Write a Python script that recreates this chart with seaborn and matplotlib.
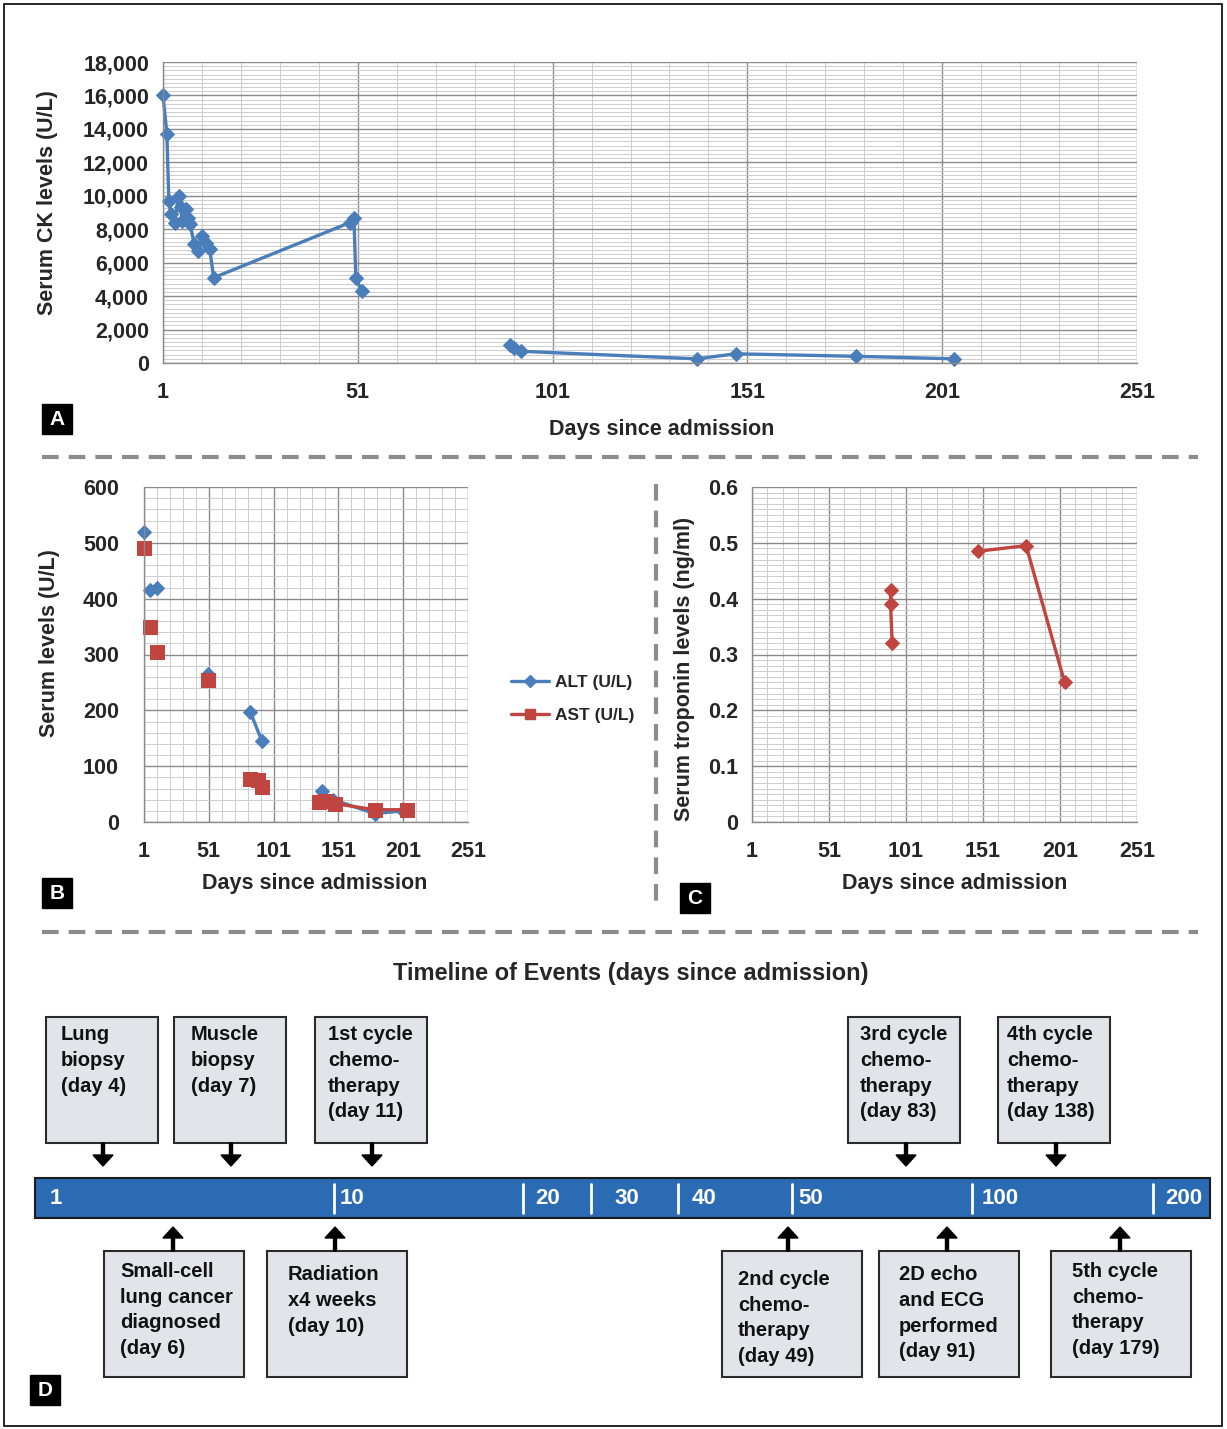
import numpy as np
import pandas as pd
import matplotlib
matplotlib.use("Agg")
import matplotlib.pyplot as plt
import seaborn as sns
from matplotlib.patches import Rectangle, FancyArrow
from matplotlib.lines import Line2D
from matplotlib.ticker import FixedLocator, MultipleLocator, FuncFormatter

# ---------------- data ----------------
# panel A - serum CK (seg = run of connected readings)
ck_day = [1, 2, 2.5, 3, 4, 5, 5.5, 6, 7, 7.5, 8, 9, 10, 11, 12, 13, 14,
          49, 50, 50.5, 52, 90, 91, 93, 138, 148, 179, 204]
ck_val = [16000, 13700, 9700, 8900, 8400, 10000, 9300, 8500, 9200, 8700, 8300,
          7100, 6700, 7600, 7200, 6800, 5100, 8400, 8700, 5100, 4300,
          1100, 900, 700, 250, 550, 400, 250]
ck_seg = [0] * 21 + [1] * 7

# panel B - ALT / AST
alt_day = [1, 6, 11, 50, 83, 92, 138, 147, 179, 201]
alt_val = [520, 415, 420, 265, 197, 145, 55, 40, 15, 20]
alt_seg = [0, 1, 1, 2, 3, 3, 4, 4, 4, 4]

ast_day = [1, 6, 11, 50, 83, 89, 92, 136, 141, 148, 179, 204]
ast_val = [490, 350, 305, 255, 77, 75, 62, 35, 37, 33, 22, 22]
ast_seg = [0, 1, 2, 3, 4, 4, 4, 5, 5, 5, 5, 5]

# panel C - troponin
trop_day = [91, 91, 92, 148, 179, 204]
trop_val = [0.415, 0.39, 0.32, 0.485, 0.495, 0.25]
trop_seg = [0, 0, 0, 1, 1, 1]

day_ticks = [1, 51, 101, 151, 201, 251]

# panel D - timeline
tl_ticks = ["1", "10", "20", "30", "40", "50", "100", "200"]
top_labels = ["Lung\nbiopsy\n(day 4)", "Muscle\nbiopsy\n(day 7)",
              "1st cycle\nchemo-\ntherapy\n(day 11)",
              "3rd cycle\nchemo-\ntherapy\n(day 83)",
              "4th cycle\nchemo-\ntherapy\n(day 138)"]
bottom_labels = ["Small-cell\nlung cancer\ndiagnosed\n(day 6)",
                 "Radiation\nx4 weeks\n(day 10)",
                 "2nd cycle\nchemo-\ntherapy\n(day 49)",
                 "2D echo\nand ECG\nperformed\n(day 91)",
                 "5th cycle\nchemo-\ntherapy\n(day 179)"]

# ---------------- layout (pixels) ----------------
W, H = 1227, 1429
tl_text_x = [50, 340, 535, 614, 692, 798, 982, 1165]
tl_sep_x = [None, 334, 523, 591, 678, 792, 972, 1153]
top_box_left = [46, 174, 315, 848, 998]
top_arrow_x = [103, 231, 372, 906, 1056]
top_text_dx = [15, 17, 13, 12, 9]
bot_box_left = [104, 267, 722, 879, 1051]
bot_arrow_x = [173, 335, 788, 947, 1120]
bot_text_dx = [16, 21, 16, 20, 21]
bot_text_y = [1262, 1265, 1270, 1265, 1262]

BLUE = "#4a7ebb"
RED = "#c0443f"
FONT = 15.5

sns.set_theme(style="white")
plt.rcParams['font.family'] = ['Liberation Sans', 'DejaVu Sans']
plt.rcParams['font.weight'] = 'bold'
plt.rcParams['axes.labelweight'] = 'bold'

fig = plt.figure(figsize=(W / 100, H / 100), dpi=100)

ov = fig.add_axes([0, 0, 1, 1])
ov.set_xlim(0, W)
ov.set_ylim(H, 0)
ov.axis('off')


def px_axes(l, t, r, b):
    return fig.add_axes([l / W, 1 - b / H, (r - l) / W, (b - t) / H])


def excel_style(ax, ymax, ymaj, ymin, fmt, ypad):
    ax.set_xlim(1, 251)
    ax.set_ylim(0, ymax)
    ax.xaxis.set_major_locator(FixedLocator(day_ticks))
    ax.xaxis.set_minor_locator(FixedLocator(np.arange(1, 252, 10)))
    ax.yaxis.set_major_locator(MultipleLocator(ymaj))
    ax.yaxis.set_minor_locator(MultipleLocator(ymin))
    ax.yaxis.set_major_formatter(FuncFormatter(fmt))
    ax.grid(which='major', color='#8a8a8a', lw=1.0)
    ax.grid(which='minor', color='#cdcdcd', lw=0.7)
    ax.set_axisbelow(True)
    for s in ['top', 'right']:
        ax.spines[s].set_visible(False)
    for s in ['left', 'bottom']:
        ax.spines[s].set_color('#8a8a8a')
        ax.spines[s].set_linewidth(1.0)
    ax.tick_params(axis='x', which='major', length=4, color='#8a8a8a',
                   pad=10, labelsize=FONT)
    ax.tick_params(axis='y', which='major', length=0, pad=ypad,
                   labelsize=FONT)
    ax.tick_params(which='minor', length=0)
    ax.set_facecolor('white')


def set_labels(ax, box, xlab, ylab, xc, yc):
    l, t, r, b = box
    ax.set_xlabel(xlab, fontsize=FONT, fontweight='bold')
    ax.set_ylabel(ylab, fontsize=FONT, fontweight='bold')
    ax.xaxis.label.set_va('center')
    ax.yaxis.label.set_va('center')
    ax.xaxis.set_label_coords((xc[0] - l) / (r - l), (b - xc[1]) / (b - t))
    ax.yaxis.set_label_coords((yc[0] - l) / (r - l), (b - yc[1]) / (b - t))


# ---------------- panel A ----------------
box_a = (163, 62, 1137, 363)
ax_a = px_axes(*box_a)
ck_df = pd.DataFrame({'day': ck_day, 'ck': ck_val, 'seg': ck_seg})
sns.lineplot(data=ck_df, x='day', y='ck', units='seg', estimator=None,
             sort=False, ax=ax_a, color=BLUE, lw=2.4, marker='D',
             markersize=7, markeredgecolor=BLUE, clip_on=False)
excel_style(ax_a, 18000, 2000, 250, lambda v, p: f"{int(v):,}", 10)
set_labels(ax_a, box_a, 'Days since admission', 'Serum CK levels (U/L)',
           (662, 429), (48, 203))

# ---------------- panel B ----------------
box_b = (144, 487, 468, 822)
ax_b = px_axes(*box_b)
alt_df = pd.DataFrame({'day': alt_day, 'val': alt_val, 'seg': alt_seg})
ast_df = pd.DataFrame({'day': ast_day, 'val': ast_val, 'seg': ast_seg})
sns.lineplot(data=alt_df, x='day', y='val', units='seg', estimator=None,
             ax=ax_b, color=BLUE, lw=2.4, marker='D', markersize=7,
             markeredgecolor=BLUE, clip_on=False)
sns.lineplot(data=ast_df, x='day', y='val', units='seg', estimator=None,
             ax=ax_b, color=RED, lw=2.4, marker='s', markersize=10,
             markeredgecolor=RED, clip_on=False)
excel_style(ax_b, 600, 100, 20, lambda v, p: f"{int(v)}", 18)
set_labels(ax_b, box_b, 'Days since admission', 'Serum levels (U/L)',
           (315, 883), (50, 643))
handles = [Line2D([], [], color=BLUE, lw=2.4, marker='D', markersize=6),
           Line2D([], [], color=RED, lw=2.4, marker='s', markersize=7)]
ax_b.legend(handles, ['ALT (U/L)', 'AST (U/L)'], loc='upper left',
            bbox_to_anchor=(511 / W, 1 - 675 / H),
            bbox_transform=fig.transFigure, frameon=False, fontsize=12.5,
            handlelength=2.2, handletextpad=0.35, labelspacing=1.0,
            borderpad=0, borderaxespad=0)

# ---------------- panel C ----------------
box_c = (752, 487, 1137, 822)
ax_c = px_axes(*box_c)
trop_df = pd.DataFrame({'day': trop_day, 'val': trop_val, 'seg': trop_seg})
sns.lineplot(data=trop_df, x='day', y='val', units='seg', estimator=None,
             sort=False, ax=ax_c, color=RED, lw=2.4, marker='D',
             markersize=7, markeredgecolor=RED)
excel_style(ax_c, 0.6, 0.1, 0.01,
            lambda v, p: "0" if abs(v) < 1e-9 else f"{v:.1f}", 10)
set_labels(ax_c, box_c, 'Days since admission',
           'Serum troponin levels (ng/ml)', (955, 884), (684, 669))

# ---------------- decorations ----------------
ov.add_patch(Rectangle((4, 4), W - 9, H - 7, fill=False, ec='black', lw=1.2))
for y in [457, 932]:
    ov.plot([42, 1198], [y, y], color='#8c8c8c', lw=3, dashes=(4, 2.4))
ov.plot([656, 656], [484, 910], color='#8c8c8c', lw=3, dashes=(4, 2.4))

for letter, (lx, ly) in zip("ABCD", [(42, 404), (42, 878), (680, 883), (30, 1375)]):
    ov.add_patch(Rectangle((lx, ly), 30, 30, fc='black', ec='black'))
    ov.text(lx + 15, ly + 15.5, letter, color='white', fontsize=15,
            fontweight='bold', ha='center', va='center')

ov.text(631, 973, 'Timeline of Events (days since admission)',
        fontsize=17, fontweight='bold', ha='center', va='center')

# timeline bar
ov.add_patch(Rectangle((35, 1178), 1175, 40, fc='#2a6bb4', ec='#1c1c1c', lw=1.5))
for lab, tx, sx in zip(tl_ticks, tl_text_x, tl_sep_x):
    if sx is not None:
        ov.plot([sx, sx], [1184, 1213], color='white', lw=2)
    ov.text(tx, 1199, lab, color='white', fontsize=16, fontweight='bold',
            ha='left', va='center')

BOX_FC = '#e1e4e9'
for lab, bl, axx, dx in zip(top_labels, top_box_left, top_arrow_x, top_text_dx):
    ov.add_patch(Rectangle((bl, 1017), 112, 126, fc=BOX_FC, ec='#2b2b2b', lw=1.5))
    ov.text(bl + dx, 1025, lab, fontsize=14.5, fontweight='bold', ha='left',
            va='top', linespacing=1.45, color='#111111')
    ov.add_patch(FancyArrow(axx, 1143, 0, 23, width=3, head_width=20,
                            head_length=11, length_includes_head=True,
                            color='black'))

for lab, bl, axx, dx, ty in zip(bottom_labels, bot_box_left, bot_arrow_x,
                                bot_text_dx, bot_text_y):
    ov.add_patch(Rectangle((bl, 1251), 140, 126, fc=BOX_FC, ec='#2b2b2b', lw=1.5))
    ov.text(bl + dx, ty, lab, fontsize=14.5, fontweight='bold', ha='left',
            va='top', linespacing=1.45, color='#111111')
    ov.add_patch(FancyArrow(axx, 1251, 0, -24, width=3, head_width=20,
                            head_length=11, length_includes_head=True,
                            color='black'))

fig.savefig('out.png', dpi=100, facecolor='white')
